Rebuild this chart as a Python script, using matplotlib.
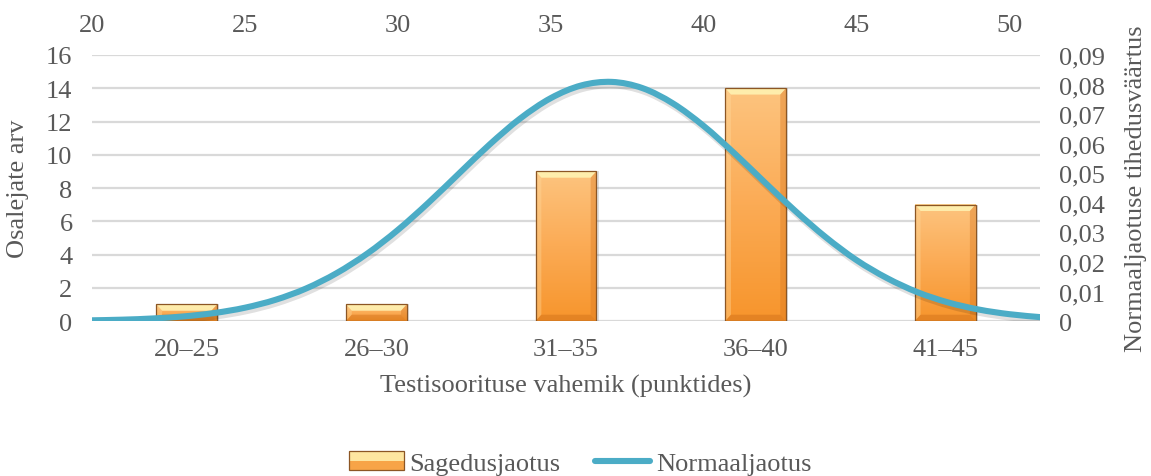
import numpy as np
import matplotlib
matplotlib.use("Agg")
import matplotlib.pyplot as plt
from matplotlib.patches import Rectangle, Polygon, PathPatch
from matplotlib.path import Path
from matplotlib.colors import LinearSegmentedColormap
from matplotlib.legend_handler import HandlerBase
from matplotlib.lines import Line2D
import matplotlib.patheffects as pe

plt.rcParams['font.family'] = ['Liberation Serif', 'DejaVu Serif']

# sagedusjaotus
categories = ['20–25', '26–30', '31–35', '36–40', '41–45']
counts = [1, 1, 9, 14, 7]

# normaaljaotuse tihedus (punktid)
norm_x = [20, 21, 22, 23, 24, 25, 26, 27, 28, 29, 30, 31, 32, 33, 34, 35,
          36, 37, 38, 39, 40, 41, 42, 43, 44, 45, 46, 47, 48, 49, 50, 51]
norm_y = [0.00024, 0.00046, 0.00087, 0.00156, 0.00271, 0.00450, 0.00718,
          0.0110, 0.0162, 0.0228, 0.0308, 0.0400, 0.0499, 0.0597, 0.0685,
          0.0754, 0.0797, 0.0809, 0.0788, 0.0736, 0.0660, 0.0568, 0.0469,
          0.0372, 0.0283, 0.0206, 0.0145, 0.00972, 0.00627, 0.00388,
          0.00231, 0.00132]

left_ticks = [0, 2, 4, 6, 8, 10, 12, 14, 16]
right_ticks = [0, 0.01, 0.02, 0.03, 0.04, 0.05, 0.06, 0.07, 0.08, 0.09]
top_ticks = [20, 25, 30, 35, 40, 45, 50]

TXT = '#595959'
GRID = '#d9d9d9'
LINE = '#4bacc6'
FS = 19

bar_cmap = LinearSegmentedColormap.from_list('bar', ['#f7952c', '#fbab55', '#fdc47f'])


def draw_bar(ax, xc, h, w=0.32):
    x0, x1 = xc - w / 2, xc + w / 2
    # varjuke paremal
    ax.add_patch(Rectangle((x0 + 0.012, 0), w, h, facecolor='#7f7f7f', alpha=0.25,
                           edgecolor='none', zorder=1.5))
    grad = np.linspace(0, 1, 200).reshape(-1, 1)
    ax.imshow(grad, cmap=bar_cmap, origin='lower', aspect='auto',
              extent=(x0, x1, 0, h), zorder=2, interpolation='bilinear')
    dx = 0.03
    dy = min(0.38, h * 0.4)
    bevel = [
        ([(x0, h), (x1, h), (x1 - dx, h - dy), (x0 + dx, h - dy)], '#fff2b2', 0.9),
        ([(x0, 0), (x0, h), (x0 + dx, h - dy), (x0 + dx, dy)], '#ffd89a', 0.4),
        ([(x1, 0), (x1, h), (x1 - dx, h - dy), (x1 - dx, dy)], '#d9781f', 0.4),
        ([(x0, 0), (x1, 0), (x1 - dx, dy), (x0 + dx, dy)], '#cf6f1a', 0.45),
    ]
    for pts, c, a in bevel:
        ax.add_patch(Polygon(pts, closed=True, facecolor=c, alpha=a,
                             edgecolor='none', zorder=2.2))
    ax.add_patch(Rectangle((x0, 0), w, h, fill=False, edgecolor='#8c5624',
                           linewidth=0.9, zorder=2.4))


def smooth_path(xs, ys):
    # silutud joon (Bezier) läbi punktide
    p = np.column_stack([xs, ys]).astype(float)
    ext = np.vstack([p[0], p, p[-1]])
    verts = [p[0]]
    codes = [Path.MOVETO]
    for i in range(len(p) - 1):
        a, b, c, d = ext[i], ext[i + 1], ext[i + 2], ext[i + 3]
        verts += [b + (c - a) / 6, c - (d - b) / 6, c]
        codes += [Path.CURVE4] * 3
    return Path(verts, codes)


class BarHandler(HandlerBase):
    def create_artists(self, legend, orig, xd, yd, width, height, fontsize, trans):
        lo = Rectangle((xd, yd), width, height * 0.5, facecolor='#f7a447',
                       edgecolor='none', transform=trans)
        hi = Rectangle((xd, yd + height * 0.5), width, height * 0.5,
                       facecolor='#fee6a0', edgecolor='none', transform=trans)
        edge = Rectangle((xd, yd), width, height, fill=False,
                         edgecolor='#8c5624', linewidth=0.9, transform=trans)
        return [lo, hi, edge]


fig = plt.figure(figsize=(11.51, 4.77), dpi=100)
pos = [0.0799, 0.3249, 0.8237, 0.5577]
ax = fig.add_axes(pos)
ax2 = fig.add_axes(pos)

ax.set_xlim(-0.5, len(categories) - 0.5)
ax.set_ylim(0, 16)
ax.set_yticks(left_ticks)
ax.set_xticks(range(len(categories)))
ax.set_xticklabels(categories)
ax.yaxis.grid(True, color=GRID, linewidth=1.6)
ax.set_axisbelow(True)
for s in ax.spines.values():
    s.set_visible(False)
ax.axhline(0, color=GRID, linewidth=2, zorder=1)
ax.tick_params(axis='both', length=0, labelsize=FS, labelcolor=TXT)
ax.tick_params(axis='x', pad=12)
ax.tick_params(axis='y', pad=14)
ax.set_xlabel('Testisoorituse vahemik (punktides)', fontsize=FS, color=TXT, labelpad=10)
ax.set_ylabel('Osalejate arv', fontsize=FS, color=TXT, labelpad=12)

for i, c in enumerate(counts):
    draw_bar(ax, i, c)
ax.set_xlim(-0.5, len(categories) - 0.5)
ax.set_ylim(0, 16)

# normaaljaotuse kõver teisel teljel
ax2.patch.set_visible(False)
curve = PathPatch(smooth_path(norm_x, norm_y), facecolor='none', edgecolor=LINE,
                  linewidth=4.4, capstyle='round', joinstyle='round',
                  path_effects=[pe.SimpleLineShadow(offset=(1, -2.5), shadow_color='k',
                                                    alpha=0.12),
                                pe.Normal()])
ax2.add_patch(curve)
ax2.set_xlim(20, 51)
ax2.set_ylim(0, 0.09)
ax2.xaxis.tick_top()
ax2.yaxis.tick_right()
ax2.yaxis.set_label_position('right')
ax2.set_xticks(top_ticks)
ax2.set_yticks(right_ticks)
ax2.set_yticklabels(['0' if v == 0 else f'{v:.2f}'.replace('.', ',') for v in right_ticks])
for s in ax2.spines.values():
    s.set_visible(False)
ax2.tick_params(axis='both', length=0, labelsize=FS, labelcolor=TXT)
ax2.tick_params(axis='x', pad=14)
ax2.tick_params(axis='y', pad=14)
ax2.set_ylabel('Normaaljaotuse tihedusväärtus', fontsize=FS, color=TXT, labelpad=14)

handles = [Rectangle((0, 0), 1, 1),
           Line2D([0], [0], color=LINE, linewidth=4.4, solid_capstyle='round')]
leg = fig.legend(handles, ['Sagedusjaotus', 'Normaaljaotus'], loc='center',
                 bbox_to_anchor=(0.504, 0.027), ncol=2, frameon=False, fontsize=FS,
                 handlelength=2.1, handletextpad=0.2, columnspacing=1.3,
                 handler_map={Rectangle: BarHandler()})
for t in leg.get_texts():
    t.set_color(TXT)

fig.savefig('out.png', dpi=100)
